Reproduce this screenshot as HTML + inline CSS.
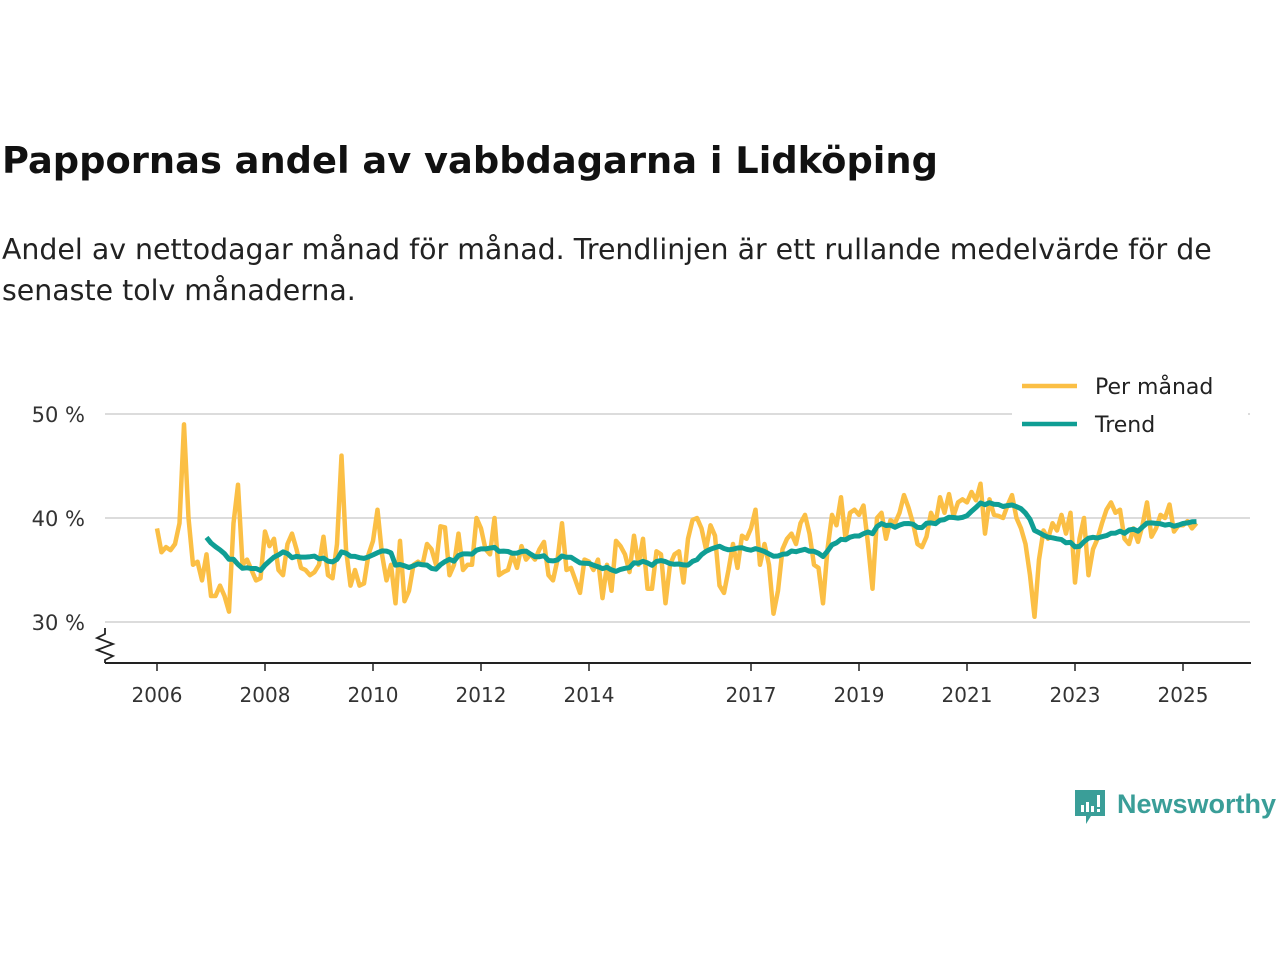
<!DOCTYPE html>
<html><head><meta charset="utf-8">
<style>
body{margin:0;width:1280px;height:960px;background:#fff;font-family:"Liberation Sans","DejaVu Sans",sans-serif;color:#111;overflow:hidden;position:relative}
#title{position:absolute;left:2px;top:139px;font-size:36.8px;font-weight:bold;margin:0;font-family:"DejaVu Sans",sans-serif}
#subtitle{position:absolute;left:2px;top:229px;font-size:28.4px;line-height:41px;width:1262px;color:#222;font-family:"DejaVu Sans",sans-serif}
svg{position:absolute;left:0;top:0}
</style></head><body>
<h1 id="title">Pappornas andel av vabbdagarna i Lidköping</h1>
<div id="subtitle">Andel av nettodagar månad för månad. Trendlinjen är ett rullande medelvärde för de senaste tolv månaderna.</div>
<svg id="chart" width="1280" height="960"></svg>
<div style="position:absolute;left:1073px;top:788px;display:flex;align-items:center">
<svg width="34" height="40" style="position:static"><path d="M2 2h30v26H18l-5 8v-8H2z" fill="#3a9e98"/><rect x="8" y="17" width="3" height="7" fill="#fff"/><rect x="13" y="14" width="3" height="10" fill="#fff"/><rect x="18" y="18" width="3" height="6" fill="#fff"/><rect x="24" y="7" width="3" height="12" fill="#fff"/><rect x="24" y="21" width="3" height="3" fill="#fff"/></svg>
<span style="color:#3a9e98;font-size:27px;font-weight:bold;margin-left:10px;margin-top:-8px">Newsworthy</span></div>
<script>
const monthly=[
39.0,36.7,37.2,36.9,37.5,39.5,49.0,40.0,35.5,35.8,34.0,36.5,
32.5,32.5,33.5,32.5,31.0,39.5,43.2,35.5,36.0,35.0,34.0,34.2,
38.7,37.3,38.0,35.0,34.5,37.5,38.5,37.0,35.2,35.0,34.5,34.8,
35.5,38.2,34.5,34.2,37.5,46.0,37.0,33.5,35.0,33.5,33.7,36.5,
37.8,40.8,36.5,34.0,35.5,31.8,37.8,32.0,33.0,35.5,35.8,35.5,
37.5,37.0,35.5,39.2,39.1,34.5,35.5,38.5,35.0,35.5,35.5,40.0,
39.0,37.0,36.5,40.0,34.5,34.8,35.0,36.5,35.2,37.3,36.0,36.5,
36.0,37.0,37.7,34.5,34.0,36.0,39.5,35.0,35.2,34.0,32.8,36.0,
35.8,35.0,36.0,32.3,35.5,33.0,37.8,37.3,36.5,34.8,38.3,35.5,
38.0,33.2,33.2,36.8,36.5,31.8,35.5,36.5,36.8,33.8,38.0,39.8,
40.0,39.0,37.0,39.3,38.3,33.5,32.8,35.0,37.5,35.2,38.3,38.0,
39.0,40.8,35.5,37.5,35.5,30.8,33.0,37.0,38.0,38.5,37.5,39.5,
40.3,38.5,35.5,35.2,31.8,37.0,40.3,39.3,42.0,38.0,40.5,40.8,
40.3,41.2,37.5,33.2,40.0,40.5,38.0,39.8,39.5,40.5,42.2,41.0,
39.5,37.5,37.2,38.2,40.5,39.5,42.0,40.5,42.3,40.2,41.5,41.8,
41.5,42.5,41.7,43.3,38.5,41.8,40.3,40.2,40.0,41.2,42.2,40.0,
39.0,37.5,34.5,30.5,36.0,38.8,38.0,39.5,38.8,40.3,38.5,40.5,
33.8,38.0,40.0,34.5,37.0,38.0,39.5,40.8,41.5,40.5,40.8,38.0,
37.5,39.0,37.7,39.3,41.5,38.2,39.0,40.3,40.0,41.3,38.7,39.3,
39.3,39.7,39.0,39.5];
const startYear=2006;
const yTicks=[30,40,50];
const xTickYears=[2006,2008,2010,2012,2014,2017,2019,2021,2023,2025];
const legendLabels=["Per månad","Trend"];

const NS="http://www.w3.org/2000/svg";
const svg=document.getElementById('chart');
const X=m=>157+m*(54/12);
const Y=v=>518-(v-40)*10.4;
function mk(t,a){const e=document.createElementNS(NS,t);for(const k in a)e.setAttribute(k,a[k]);svg.appendChild(e);return e;}
yTicks.forEach(v=>{
 const g=mk('line',{x1:105,x2:1250,y1:Y(v),y2:Y(v),stroke:'#dcdcdc','stroke-width':2});
 
 
 const t=mk('text',{x:85,y:Y(v)+8,'text-anchor':'end','font-size':21,fill:'#333','font-family':'DejaVu Sans, sans-serif'});
 t.textContent=v+' %';
 
 
});
const ax=mk('line',{x1:105,x2:1251,y1:663,y2:663,stroke:'#222','stroke-width':2});


const br=mk('path',{d:'M105 628 L105 634 L97 638 L113 644 L97 650 L113 656 L105 660 L105 663',fill:'none',stroke:'#222','stroke-width':1.8});


xTickYears.forEach(yr=>{
 const x=X((yr-startYear)*12);
 const tk=mk('line',{x1:x,x2:x,y1:663,y2:671,stroke:'#222','stroke-width':1.5});
 
 
 const t=mk('text',{x:x,y:702,'text-anchor':'middle','font-size':20,fill:'#333','font-family':'DejaVu Sans, sans-serif'});
 t.textContent=yr;
 
 
});
const mp=monthly.map((v,i)=>(i?'L':'M')+X(i).toFixed(1)+' '+Y(v).toFixed(1)).join(' ');
const ml=mk('path',{d:mp,fill:'none',stroke:'#fbbf45','stroke-width':4.5,'stroke-linejoin':'round'});


let tp='';
for(let i=11;i<monthly.length;i++){
 let s=0;for(let j=i-11;j<=i;j++)s+=monthly[j];
 tp+=(i===11?'M':'L')+X(i).toFixed(1)+' '+Y(s/12).toFixed(1)+' ';
}
const tl=mk('path',{d:tp,fill:'none',stroke:'#0f9e94','stroke-width':5,'stroke-linejoin':'round'});


const lb=mk('rect',{x:1012,y:368,width:236,height:74,fill:'#fff'});


[['#fbbf45',386],['#0f9e94',424]].forEach((c,i)=>{
 const l=mk('line',{x1:1022,x2:1077,y1:c[1],y2:c[1],stroke:c[0],'stroke-width':4.5});
 
 
 const t=mk('text',{x:1095,y:c[1]+8,'font-size':22,fill:'#222','font-family':'DejaVu Sans, sans-serif'});
 t.textContent=legendLabels[i];
 
 
});
</script>
</body></html>
